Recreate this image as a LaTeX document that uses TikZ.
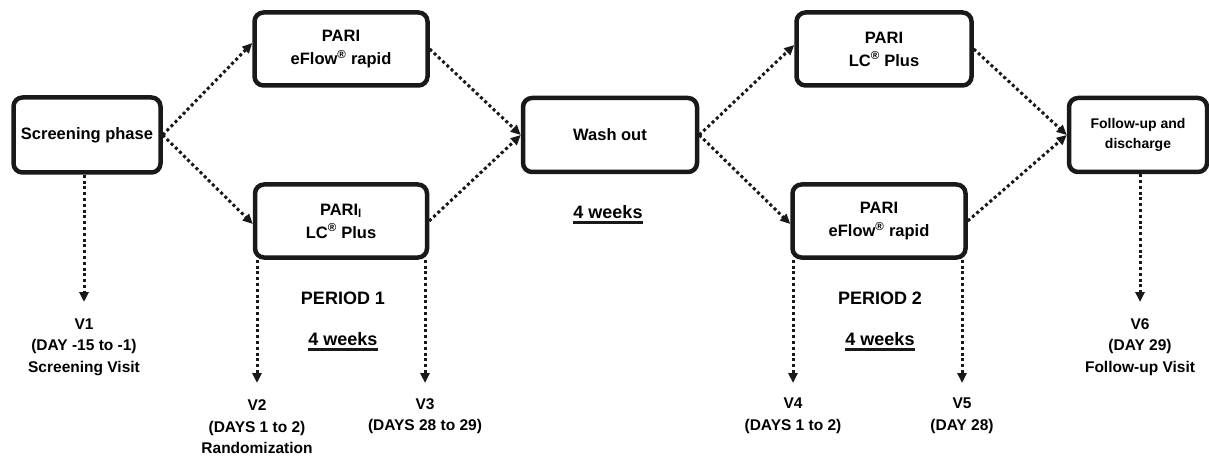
\documentclass[tikz,border=0pt]{standalone}
\usepackage{fontspec}
\setmainfont{Liberation Sans}
\usetikzlibrary{arrows.meta}
\begin{document}
\begin{tikzpicture}[x=1pt,y=-1pt,
  stagebox/.style={draw=black!90, line width=4.5pt, rounded corners=9pt, fill=white,
    align=center, font=\bfseries\fontsize{16.5}{23}\selectfont, inner sep=2pt},
  dotarrow/.style={line width=3pt, dash pattern=on 3pt off 2.8pt, black!90,
    -{Triangle[length=10pt,width=9pt]}},
  visit/.style={align=center, inner sep=0pt, font=\bfseries\fontsize{15.5}{21.5}\selectfont},
  period/.style={inner sep=0pt, font=\bfseries\fontsize{18}{22}\selectfont},
  uline/.style={line width=2.8pt, black!90}
]
\path[use as bounding box, fill=white] (0,0) rectangle (1209,457);

% boxes
\node[stagebox, minimum width=147pt, minimum height=75pt] (scr) at (87,135) {Screening phase};
\node[stagebox, minimum width=173pt, minimum height=73pt] (t1) at (341,49) {PARI\\eFlow\textsuperscript{®} rapid};
\node[stagebox, minimum width=172pt, minimum height=73pt] (b1) at (341,221) {PARI\textsubscript{l}\\LC\textsuperscript{®} Plus};
\node[stagebox, minimum width=174pt, minimum height=74pt] (wash) at (610,135) {Wash out};
\node[stagebox, minimum width=175pt, minimum height=73pt] (t2) at (884,49) {PARI\\LC\textsuperscript{®} Plus};
\node[stagebox, minimum width=173pt, minimum height=73pt] (b2) at (879,221) {PARI\\eFlow\textsuperscript{®} rapid};
\node[stagebox, minimum width=138pt, minimum height=74pt, font=\bfseries\fontsize{14}{20}\selectfont] (fu) at (1138,135) {Follow-up and\\discharge};

% diagonal connectors
\draw[dotarrow] (scr.east) -- ([yshift=6pt]t1.west);
\draw[dotarrow] (scr.east) -- ([yshift=-3pt]b1.west);
\draw[dotarrow] (t1.east) -- (wash.west);
\draw[dotarrow] (b1.east) -- (wash.west);
\draw[dotarrow] (wash.east) -- ([yshift=4pt]t2.west);
\draw[dotarrow] (wash.east) -- ([yshift=-3pt]b2.west);
\draw[dotarrow] (t2.east) -- (fu.west);
\draw[dotarrow] (b2.east) -- (fu.west);

% free ends of the vertical arrows
\coordinate (e1) at (84,302);
\coordinate (e2) at (257,383);
\coordinate (e3) at (425,383);
\coordinate (e4) at (793,383);
\coordinate (e5) at (962,383);
\coordinate (e6) at (1140,302);

\draw[dotarrow] (e1 |- scr.south) -- (e1);
\draw[dotarrow] (e2 |- b1.south) -- (e2);
\draw[dotarrow] (e3 |- b1.south) -- (e3);
\draw[dotarrow] (e4 |- b2.south) -- (e4);
\draw[dotarrow] (e5 |- b2.south) -- (e5);
\draw[dotarrow] (e6 |- fu.south) -- (e6);

% visit labels
\node[visit] (v1) at (84,347) {V1\\(DAY -15 to -1)\\Screening Visit};
\node[visit] (v2) at (257,427) {V2\\(DAYS 1 to 2)\\Randomization};
\node[visit] (v3) at (425,416) {V3\\(DAYS 28 to 29)};
\node[visit] (v4) at (793,416) {V4\\(DAYS 1 to 2)};
\node[visit] (v5) at (962,416) {V5\\(DAY 28)};
\node[visit] (v6) at (1140,347) {V6\\(DAY 29)\\Follow-up Visit};

% period labels
\node[period] (p1) at (343,298) {PERIOD 1};
\node[period] (w1) at (343,339) {4 weeks};
\draw[uline] ([yshift=-4pt]w1.base west) -- ([yshift=-4pt]w1.base east);
\node[period] (p2) at (880,298) {PERIOD 2};
\node[period] (w2) at (880,339) {4 weeks};
\draw[uline] ([yshift=-4pt]w2.base west) -- ([yshift=-4pt]w2.base east);
\node[period] (w0) at (608,212) {4 weeks};
\draw[uline] ([yshift=-4pt]w0.base west) -- ([yshift=-4pt]w0.base east);
\end{tikzpicture}
\end{document}
